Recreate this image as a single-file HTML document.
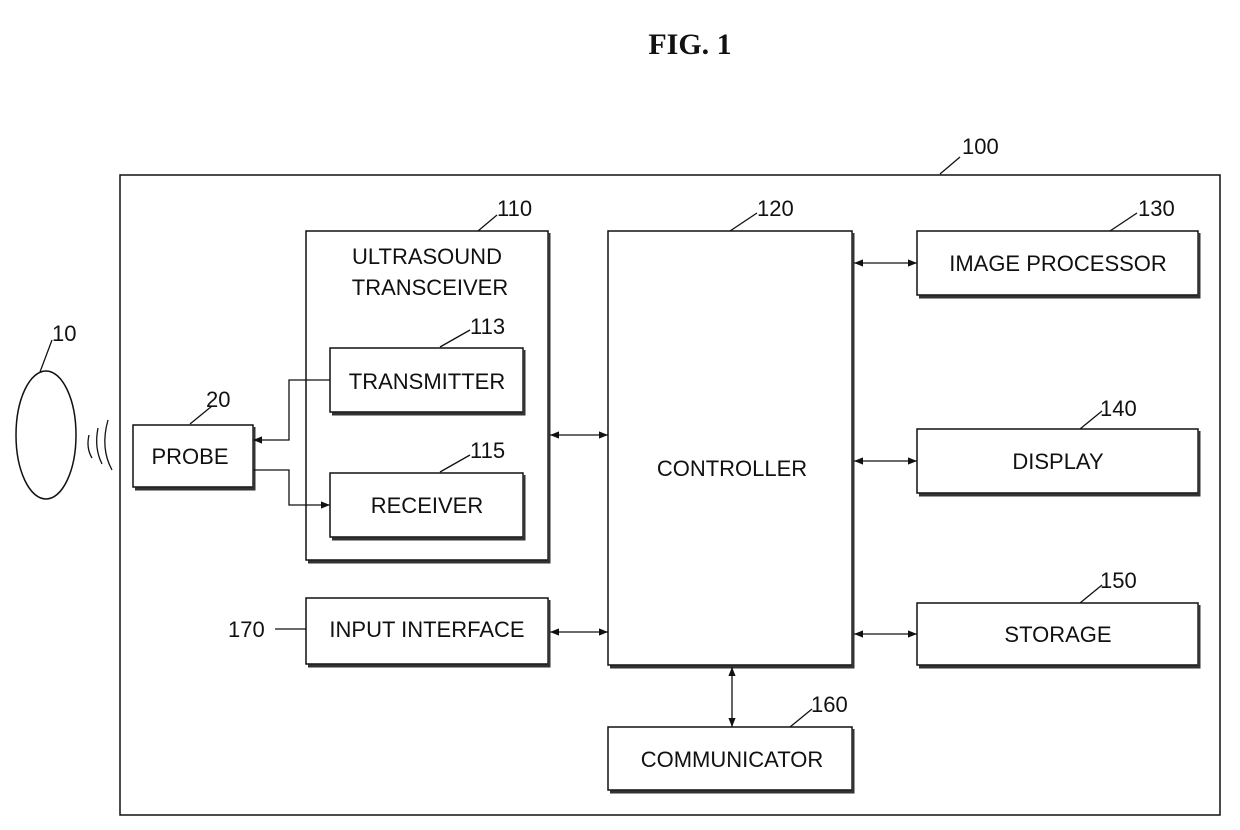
<!DOCTYPE html>
<html><head><meta charset="utf-8"><style>
html,body{margin:0;padding:0;background:#fff;}
svg{display:block;}
text{font-family:"Liberation Sans",sans-serif;fill:#111;}
</style></head><body>
<svg width="1240" height="830" viewBox="0 0 1240 830" xmlns="http://www.w3.org/2000/svg">
<defs>
<marker id="a" viewBox="0 0 10 10" refX="10" refY="5" markerWidth="9" markerHeight="9" orient="auto-start-reverse" markerUnits="userSpaceOnUse"><path d="M0,1 L10,5 L0,9 z" fill="#111"/></marker>
</defs>
<text x="690" y="54" text-anchor="middle" style="font-family:'Liberation Serif',serif;font-weight:bold;font-size:30px">FIG.  1</text>
<g fill="none" stroke="#111" stroke-width="1.5">
<rect x="120" y="175" width="1100" height="640"/>
<rect x="306" y="231" width="242" height="329"/>
<rect x="330" y="348" width="193" height="64"/>
<rect x="330" y="473" width="193" height="64"/>
<rect x="133" y="425" width="120" height="62"/>
<rect x="608" y="231" width="244" height="434"/>
<rect x="917" y="231" width="281" height="64"/>
<rect x="917" y="429" width="281" height="64"/>
<rect x="917" y="603" width="281" height="62"/>
<rect x="306" y="598" width="242" height="66"/>
<rect x="608" y="727" width="244" height="63"/>
<ellipse cx="46" cy="435" rx="30" ry="64"/>
</g>
<g fill="none" stroke="#333" stroke-width="3">
<path d="M549,233 V562 H308"/><path d="M524,350 V414 H332"/><path d="M524,475 V539 H332"/>
<path d="M254,427 V489 H135"/><path d="M853,233 V667 H610"/><path d="M1199,233 V297 H919"/>
<path d="M1199,431 V495 H919"/><path d="M1199,605 V667 H919"/><path d="M549,600 V666 H308"/><path d="M853,729 V792 H610"/>
</g>
<g fill="none" stroke="#111" stroke-width="1.3">
<path d="M330,380 H289 V440 H253" marker-end="url(#a)"/>
<path d="M253,470 H289 V505 H330" marker-end="url(#a)"/>
<path d="M550,435 H608" marker-start="url(#a)" marker-end="url(#a)"/>
<path d="M854,263 H917" marker-start="url(#a)" marker-end="url(#a)"/>
<path d="M854,461 H917" marker-start="url(#a)" marker-end="url(#a)"/>
<path d="M854,634 H917" marker-start="url(#a)" marker-end="url(#a)"/>
<path d="M550,632 H608" marker-start="url(#a)" marker-end="url(#a)"/>
<path d="M732,667 V727" marker-start="url(#a)" marker-end="url(#a)"/>
<path d="M108,420 Q100,448 112,470"/><path d="M98,428 Q94,448 102,464"/><path d="M89,435 Q86,448 92,458"/>
<path d="M940,174 L960,157"/><path d="M478,231 L497,215"/><path d="M730,231 L757,213"/><path d="M1110,231 L1137,213"/>
<path d="M1080,429 L1102,411"/><path d="M1080,603 L1102,585"/><path d="M790,727 L812,709"/>
<path d="M440,347 L470,330"/><path d="M440,472 L470,455"/><path d="M190,424 L212,406"/><path d="M40,372 L52,340"/><path d="M306,629 H275"/>
</g>
<g font-size="22">
<text x="962" y="154">100</text><text x="497" y="216">110</text><text x="757" y="216">120</text><text x="1138" y="216">130</text>
<text x="1100" y="416">140</text><text x="1100" y="588">150</text><text x="811" y="712">160</text>
<text x="470" y="334">113</text><text x="470" y="458">115</text><text x="206" y="407">20</text><text x="52" y="341">10</text><text x="228" y="637">170</text>
</g>
<g font-size="22" text-anchor="middle">
<text x="427" y="264">ULTRASOUND</text><text x="430" y="295">TRANSCEIVER</text>
<text x="427" y="389">TRANSMITTER</text><text x="427" y="513">RECEIVER</text><text x="190" y="464">PROBE</text>
<text x="732" y="476">CONTROLLER</text><text x="1058" y="271">IMAGE PROCESSOR</text><text x="1058" y="469">DISPLAY</text>
<text x="1058" y="642">STORAGE</text><text x="427" y="637">INPUT INTERFACE</text><text x="732" y="767">COMMUNICATOR</text>
</g>
</svg>
</body></html>
